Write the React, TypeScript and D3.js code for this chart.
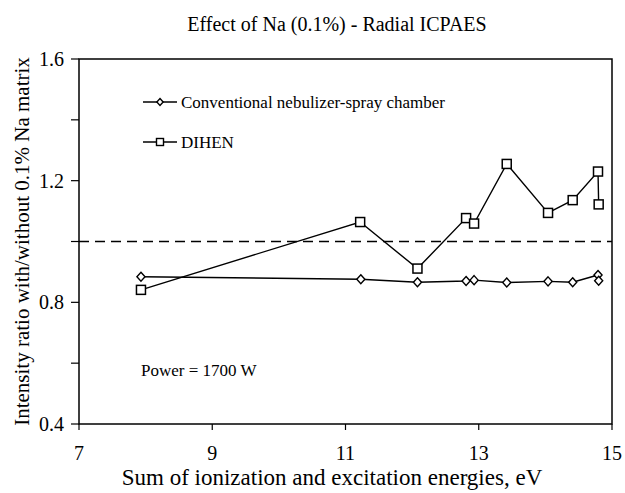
import React from "react";
import * as d3 from "d3";

const convX = [7.93, 11.23, 12.08, 12.81, 12.93, 13.42, 14.04, 14.41, 14.79, 14.8];
const convY = [0.884, 0.876, 0.866, 0.87, 0.873, 0.865, 0.869, 0.866, 0.89, 0.871];
const dihenX = [7.93, 11.22, 12.08, 12.81, 12.93, 13.42, 14.04, 14.41, 14.79, 14.8];
const dihenY = [0.841, 1.064, 0.911, 1.077, 1.059, 1.255, 1.094, 1.136, 1.23, 1.122];
const xTicks = [7, 9, 11, 13, 15];
const yTicks = [0.4, 0.8, 1.2, 1.6];
const yMinor = [0.6, 1.0, 1.4];
const refLine = 1.0;

const W = 625, H = 493;
const left = 79, right = 612, top = 59, bottom = 424;

export default function App() {
  const x = d3.scaleLinear().domain([7, 15]).range([left, right]);
  const y = d3.scaleLinear().domain([0.4, 1.6]).range([bottom, top]);
  const line = d3.line<[number, number]>().x((d) => x(d[0])).y((d) => y(d[1]));
  const conv = convX.map((v, i) => [v, convY[i]] as [number, number]);
  const dih = dihenX.map((v, i) => [v, dihenY[i]] as [number, number]);
  const font = "'Liberation Serif', 'Times New Roman', serif";
  const diamond = (cx: number, cy: number, k: string, r = 4.5) => (
    <path key={k} d={`M${cx},${cy - r}L${cx + r * 0.9},${cy}L${cx},${cy + r}L${cx - r * 0.9},${cy}Z`} fill="white" stroke="black" strokeWidth={1.4} />
  );
  const square = (cx: number, cy: number, k: string) => (
    <rect key={k} x={cx - 4.5} y={cy - 4.5} width={9} height={9} fill="white" stroke="black" strokeWidth={1.5} />
  );
  return (
    <svg width={W} height={H} style={{ position: "absolute", left: 0, top: 0, background: "white" }} fontFamily={font}>
      <rect width={W} height={H} fill="white" />
      <text x={337} y={31} textAnchor="middle" fontSize={20}>Effect of Na (0.1%) - Radial ICPAES</text>
      <rect x={left} y={top} width={right - left} height={bottom - top} fill="none" stroke="black" strokeWidth={1.5} />
      {[...yTicks, ...yMinor].map((t) => (
        <line key={"yt" + t} x1={left - 8} x2={left} y1={y(t)} y2={y(t)} stroke="black" strokeWidth={1.2} />
      ))}
      {yTicks.map((t) => (
        <text key={"yl" + t} x={64} y={y(t) + 7} textAnchor="end" fontSize={20}>{t.toFixed(1)}</text>
      ))}
      {xTicks.map((t) => (
        <line key={"xt" + t} x1={x(t)} x2={x(t)} y1={bottom} y2={bottom + 6} stroke="black" strokeWidth={1.2} />
      ))}
      {xTicks.map((t) => (
        <text key={"xl" + t} x={x(t)} y={460} textAnchor="middle" fontSize={20}>{t}</text>
      ))}
      <text x={332} y={485} textAnchor="middle" fontSize={23}>Sum of ionization and excitation energies, eV</text>
      <text transform={`translate(29,${(top + bottom) / 2}) rotate(-90)`} textAnchor="middle" fontSize={21}>Intensity ratio with/without 0.1% Na matrix</text>
      <line x1={left} x2={right} y1={y(refLine)} y2={y(refLine)} stroke="black" strokeWidth={1.5} strokeDasharray="10,6" />
      <path d={line(dih) || ""} fill="none" stroke="black" strokeWidth={1.4} />
      <path d={line(conv) || ""} fill="none" stroke="black" strokeWidth={1.4} />
      {conv.map((d, i) => diamond(x(d[0]), y(d[1]), "c" + i))}
      {dih.map((d, i) => square(x(d[0]), y(d[1]), "d" + i))}
      <line x1={143} x2={177} y1={102} y2={102} stroke="black" strokeWidth={1.4} />
      {diamond(160, 102, "lg1", 3.5)}
      <text x={181} y={108} fontSize={17}>Conventional nebulizer-spray chamber</text>
      <line x1={143} x2={177} y1={142} y2={142} stroke="black" strokeWidth={1.4} />
      <rect x={156.5} y={138.5} width={7} height={7} fill="white" stroke="black" strokeWidth={1.4} />
      <text x={181} y={148} fontSize={17}>DIHEN</text>
      <text x={141} y={376} fontSize={17}>Power = 1700 W</text>
    </svg>
  );
}
